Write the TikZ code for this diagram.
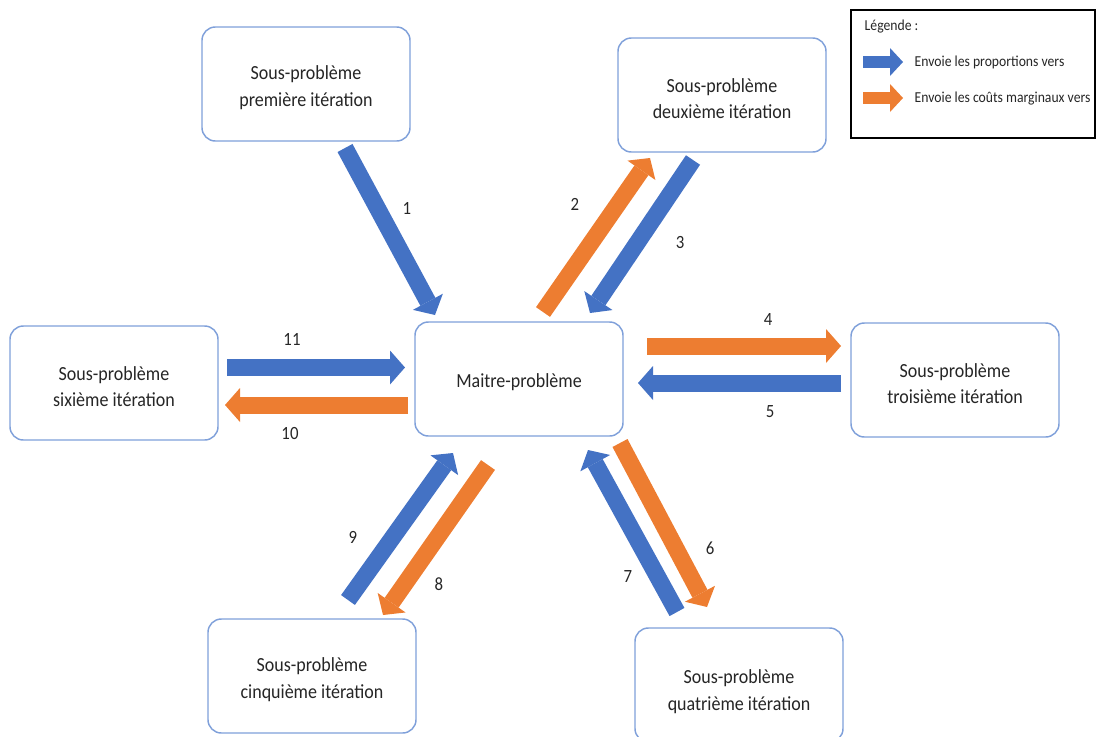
\documentclass[tikz,border=0pt]{standalone}
\usepackage{fontspec}
\setmainfont{Carlito}[FakeStretch=0.9]
\usetikzlibrary{arrows.meta}
\definecolor{oblue}{HTML}{4472C4}
\definecolor{oorange}{HTML}{ED7D31}
\definecolor{boxline}{HTML}{7FA0DA}
\definecolor{txt}{HTML}{262626}
\tikzset{
  box/.style={draw=boxline, line width=1.1pt, rounded corners=10pt, fill=white,
    minimum width=156pt, minimum height=85.5pt},
  boxtxt/.style={align=center, text=txt, font=\fontsize{15}{20}\selectfont},
  blk/.style={line width=12.75pt, -{Triangle[width=25.5pt,length=11.25pt,line width=0pt]}},
  bluearr/.style={blk, draw=oblue},
  orarr/.style={blk, draw=oorange},
  legarr/.style={line width=9pt, -{Triangle[width=21pt,length=9.75pt,line width=0pt]}},
  num/.style={text=txt, font=\fontsize{14}{16}\selectfont},
  legtxt/.style={text=txt, anchor=west, font=\fontsize{11.4}{13}\selectfont}
}
\begin{document}
\begin{tikzpicture}[x=0.75pt,y=-0.75pt]
\useasboundingbox (0,0) rectangle (1096,736);
% boxes
\node[box] (p1) at (306,84) {};
\node[box] (p2) at (722,95) {};
\node[box] (m) at (519,379) {};
\node[box] (p3) at (955,380) {};
\node[box] (p6) at (114,383) {};
\node[box] (p5) at (312,676) {};
\node[box] (p4) at (739,685) {};
\node[boxtxt] (p1t) at ([yshift=-2.7pt]p1.center) {Sous-problème\\première itération};
\node[boxtxt] (p2t) at ([yshift=-2.7pt]p2.center) {Sous-problème\\deuxième itération};
\node[boxtxt] (mt) at ([yshift=-2.5pt]m.center) {Maitre-problème};
\node[boxtxt] (p3t) at ([yshift=-2.7pt]p3.center) {Sous-problème\\troisième itération};
\node[boxtxt] (p6t) at ([yshift=-2.7pt]p6.center) {Sous-problème\\sixième itération};
\node[boxtxt] (p5t) at ([yshift=-2.7pt]p5.center) {Sous-problème\\cinquième itération};
\node[boxtxt] (p4t) at ([yshift=-4.8pt]p4.center) {Sous-problème\\quatrième itération};
% arrow end points
\coordinate (a1s) at (345,148); \coordinate (a1e) at (435,315);
\coordinate (a2s) at (543,312); \coordinate (a2e) at (650,158);
\coordinate (a3s) at (693,160); \coordinate (a3e) at (590,313);
\coordinate (a4s) at (647,346); \coordinate (a4e) at (841,346);
\coordinate (a5s) at (841,383); \coordinate (a5e) at (638,383);
\coordinate (a6s) at (620,443); \coordinate (a6e) at (707,607);
\coordinate (a7s) at (677,612); \coordinate (a7e) at (588,450);
\coordinate (a8s) at (488,465); \coordinate (a8e) at (383,615);
\coordinate (a9s) at (348,600); \coordinate (a9e) at (453,453);
\coordinate (a10s) at (408,405); \coordinate (a10e) at (225,405);
\coordinate (a11s) at (227,367.5); \coordinate (a11e) at (405,367.5);
% arrows
\draw[bluearr] (a1s) -- (a1e);
\draw[orarr] (a2s) -- (a2e);
\draw[bluearr] (a3s) -- (a3e);
\draw[orarr] (a4s) -- (a4e);
\draw[bluearr] (a5s) -- (a5e);
\draw[orarr] (a6s) -- (a6e);
\draw[bluearr] (a7s) -- (a7e);
\draw[orarr] (a8s) -- (a8e);
\draw[bluearr] (a9s) -- (a9e);
\draw[orarr] (a10s) -- (a10e);
\draw[bluearr] (a11s) -- (a11e);
% labels
\node[num] (l1) at (407,208) {1};
\node[num] (l2) at (575,204) {2};
\node[num] (l3) at (680,243) {3};
\node[num] (l4) at (768,320) {4};
\node[num] (l5) at (770,412) {5};
\node[num] (l6) at (710,548) {6};
\node[num] (l7) at (628,577) {7};
\node[num] (l8) at (439,584) {8};
\node[num] (l9) at (353,537) {9};
\node[num] (l10) at (290,433) {10};
\node[num] (l11) at (292,339) {11};
% legend
\node[draw=black, line width=0.8pt, minimum width=183pt, minimum height=96pt, inner sep=0pt] (leg) at (973,74) {};
\node[legtxt] (legt) at (860,27) {Légende :};
\coordinate (lb1) at (863,62); \coordinate (lb2) at (903,62);
\coordinate (lo1) at (863,98); \coordinate (lo2) at (903,98);
\draw[legarr, draw=oblue] (lb1) -- (lb2);
\draw[legarr, draw=oorange] (lo1) -- (lo2);
\node[legtxt] (lbt) at (910,62) {Envoie les proportions vers};
\node[legtxt] (lot) at (910,99) {Envoie les coûts marginaux vers};
\end{tikzpicture}
\end{document}
